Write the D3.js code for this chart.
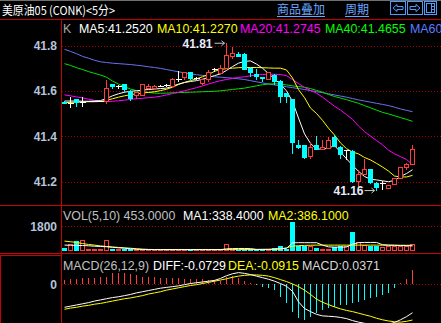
<!DOCTYPE html>
<html><head><meta charset="utf-8">
<script src="https://cdn.jsdelivr.net/npm/d3@7"></script>
<style>body{margin:0;background:#000;overflow:hidden}svg{display:block}</style>
</head><body><svg id="c" width="441" height="323"></svg>
<script>
// ---------- data ----------
const open  = [41.551,41.545,41.564,41.550,41.552,41.553,41.553,41.555,41.630,41.620, 41.630,41.601,41.580,41.580,41.609,41.610,41.620,41.623,41.618,41.651, 41.658,41.682,41.655,41.633,41.648,41.692,41.677,41.699,41.751,41.763, 41.763,41.702,41.673,41.660,41.651,41.670,41.645,41.589,41.563,41.361, 41.361,41.309,41.361,41.339,41.347,41.398,41.354,41.336,41.336,41.199, 41.232,41.254,41.195,41.192,41.170,41.185,41.214,41.261,41.273];
const high  = [41.553,41.571,41.566,41.571,41.556,41.556,41.556,41.648,41.632,41.627, 41.632,41.603,41.596,41.632,41.630,41.625,41.624,41.630,41.657,41.689, 41.684,41.684,41.660,41.654,41.690,41.699,41.714,41.810,41.792,41.773, 41.765,41.704,41.695,41.662,41.682,41.675,41.650,41.591,41.565,41.383, 41.363,41.376,41.401,41.383,41.395,41.405,41.356,41.338,41.338,41.251, 41.298,41.256,41.197,41.202,41.185,41.216,41.265,41.280,41.361];
const low   = [41.540,41.523,41.530,41.530,41.549,41.550,41.550,41.541,41.608,41.609, 41.589,41.556,41.563,41.578,41.607,41.606,41.616,41.616,41.613,41.640, 41.648,41.650,41.650,41.626,41.640,41.682,41.675,41.695,41.739,41.749, 41.690,41.662,41.648,41.640,41.649,41.626,41.545,41.548,41.320,41.345, 41.300,41.298,41.337,41.337,41.345,41.352,41.299,41.295,41.192,41.177, 41.230,41.190,41.160,41.163,41.168,41.183,41.212,41.251,41.271];
const close = [41.541,41.545,41.545,41.550,41.552,41.553,41.553,41.611,41.617,41.620, 41.604,41.563,41.594,41.630,41.621,41.620,41.620,41.623,41.651,41.651, 41.682,41.652,41.655,41.652,41.682,41.692,41.699,41.755,41.763,41.751, 41.692,41.677,41.660,41.651,41.680,41.640,41.571,41.574,41.371,41.349, 41.302,41.351,41.339,41.351,41.383,41.354,41.317,41.336,41.199,41.232, 41.254,41.192,41.170,41.192,41.183,41.214,41.263,41.273,41.343];

const ma5  = [41.555,41.555,41.555,41.554,41.554,41.555,41.557,41.566,41.578,41.587, 41.594,41.598,41.600,41.603,41.606,41.608,41.610,41.612,41.620,41.630, 41.637,41.641,41.645,41.651,41.659,41.667,41.675,41.690,41.707,41.722, 41.730,41.732,41.718,41.700,41.676,41.653,41.628,41.600,41.553,41.480, 41.410,41.368,41.343,41.343,41.347,41.358,41.330,41.300,41.272,41.245, 41.222,41.210,41.207,41.203,41.199,41.205,41.222,41.235,41.252];
const ma10 = [41.548,41.549,41.550,41.551,41.552,41.552,41.553,41.558,41.565,41.572, 41.578,41.583,41.587,41.590,41.593,41.596,41.601,41.607,41.616,41.628, 41.637,41.645,41.653,41.662,41.672,41.686,41.694,41.698,41.700,41.702, 41.703,41.703,41.703,41.702,41.701,41.700,41.700,41.692,41.657,41.605, 41.570,41.524,41.500,41.470,41.435,41.405,41.370,41.345,41.330,41.322, 41.306,41.295,41.280,41.264,41.246,41.224,41.220,41.220,41.227];
const ma20 = [41.582,41.578,41.573,41.569,41.563,41.558,41.553,41.552,41.554,41.556, 41.559,41.562,41.565,41.567,41.570,41.572,41.576,41.582,41.588,41.594, 41.600,41.607,41.614,41.622,41.630,41.638,41.645,41.650,41.655,41.659, 41.662,41.666,41.670,41.672,41.673,41.673,41.672,41.667,41.650,41.632, 41.615,41.602,41.590,41.572,41.552,41.532,41.515,41.495,41.474,41.445, 41.420,41.400,41.381,41.362,41.338,41.322,41.310,41.297,41.2745];
const ma40 = [41.720,41.712,41.702,41.694,41.685,41.677,41.670,41.660,41.643,41.630, 41.618,41.608,41.601,41.597,41.593,41.590,41.589,41.590,41.591,41.592, 41.593,41.594,41.595,41.596,41.597,41.598,41.600,41.603,41.606,41.609, 41.612,41.617,41.622,41.627,41.630,41.631,41.630,41.626,41.622,41.619, 41.616,41.610,41.602,41.594,41.584,41.575,41.568,41.561,41.553,41.545, 41.535,41.525,41.515,41.505,41.498,41.490,41.482,41.474,41.4655];
const ma60 = [41.783,41.774,41.764,41.752,41.744,41.735,41.728,41.725,41.722,41.720, 41.718,41.716,41.713,41.710,41.706,41.703,41.699,41.694,41.689,41.684, 41.679,41.675,41.671,41.668,41.665,41.662,41.660,41.658,41.656,41.653, 41.650,41.645,41.640,41.635,41.630,41.626,41.622,41.618,41.614,41.610, 41.606,41.601,41.596,41.592,41.587,41.582,41.577,41.572,41.566,41.560, 41.555,41.550,41.545,41.540,41.535,41.528,41.520,41.514,41.508];

const volume = [200,470,695,770,75,75,75,770,125,75, 100,100,75,60,60,50,50,50,75,100, 60,50,50,50,60,50,75,470,75,60, 100,100,75,100,100,150,320,125,2140,350, 350,320,150,75,100,225,350,320,1375,600, 350,350,350,225,280,300,330,330,453];
const volMa1 = [400,390,380,370,350,320,300,280,240,200, 170,130,100,80,75,65,60,60,60,60, 60,60,60,60,60,60,60,120,140,150, 150,140,80,85,90,105,150,160,570,580, 580,580,580,400,270,250,250,260,470,580, 600,600,600,430,400,390,370,360,338.4];
const volMa2 = [700,650,600,520,450,400,340,300,260,230, 200,170,130,100,80,75,75,75,75,75, 75,75,75,75,75,75,75,80,80,80, 80,80,80,80,80,85,100,200,320,360, 380,390,400,400,400,400,400,400,400,400, 400,400,400,395,395,390,390,388,386.1];

const diff = [-0.059,-0.056,-0.053,-0.050,-0.047,-0.043,-0.040,-0.037,-0.034,-0.032, -0.029,-0.026,-0.022,-0.019,-0.016,-0.013,-0.010,-0.008,-0.006,-0.004, -0.001,0.002,0.004,0.006,0.008,0.010,0.015,0.022,0.027,0.030, 0.028,0.025,0.021,0.017,0.013,0.008,0.002,-0.005,-0.018,-0.045, -0.062,-0.070,-0.077,-0.081,-0.082,-0.083,-0.085,-0.088,-0.093,-0.097, -0.100,-0.102,-0.104,-0.104,-0.102,-0.098,-0.091,-0.083,-0.0729];
const dea  = [-0.064,-0.061,-0.059,-0.056,-0.054,-0.051,-0.049,-0.046,-0.043,-0.040, -0.037,-0.035,-0.032,-0.029,-0.025,-0.022,-0.019,-0.015,-0.012,-0.009, -0.006,-0.003,-0.001,0.002,0.005,0.008,0.011,0.014,0.018,0.021, 0.023,0.024,0.024,0.023,0.021,0.017,0.012,0.007,0.001,-0.006, -0.015,-0.026,-0.038,-0.046,-0.052,-0.058,-0.063,-0.067,-0.070,-0.074, -0.078,-0.082,-0.087,-0.091,-0.094,-0.096,-0.097,-0.095,-0.0915];
const macdBar = [0.0111,0.0128,0.0137,0.0154,0.0162,0.0171,0.0179,0.0197,0.0282,0.0282, 0.0282,0.0265,0.0239,0.0197,0.0179,0.0179,0.0171,0.0162,0.0154,0.0154, 0.0137,0.0128,0.0128,0.0128,0.0111,0.0111,0.0094,0.0179,0.0214,0.0154, 0.0094,0.0026,-0.0026,-0.0077,-0.0103,-0.0145,-0.0316,-0.0487,-0.0701,-0.0872, -0.0915,-0.0829,-0.0744,-0.0658,-0.0615,-0.0573,-0.0530,-0.0530,-0.0487,-0.0444, -0.0402,-0.0359,-0.0316,-0.0274,-0.0231,-0.0103,0.0026,0.0128,0.0371];

const priceTicks = [41.2, 41.4, 41.6, 41.8];
const volTicks = [1800];
const macdTicks = [0];

const titleText = "美原油05 (CONK)<5分>";
const linkTexts = ["商品叠加", "周期"];
const kLegend = [
  {t:"K", c:"#a8a8a8"},
  {t:"MA5:41.2520", c:"#ffffff"},
  {t:"MA10:41.2270", c:"#ffff00"},
  {t:"MA20:41.2745", c:"#ff00ff"},
  {t:"MA40:41.4655", c:"#00ff00"},
  {t:"MA60:41.5080", c:"#5c7cff"}
];
const volLegend = [
  {t:"VOL(5,10) 453.0000", c:"#c0c0c0"},
  {t:"MA1:338.4000", c:"#ffffff"},
  {t:"MA2:386.1000", c:"#ffff00"}
];
const macdLegend = [
  {t:"MACD(26,12,9)", c:"#c0c0c0"},
  {t:"DIFF:-0.0729", c:"#ffffff"},
  {t:"DEA:-0.0915", c:"#ffff00"},
  {t:"MACD:0.0371", c:"#d8d8d8"}
];
const highLabel = "41.81", lowLabel = "41.16";

// ---------- drawing ----------
const W = 441, H = 323, L = 62;
const RED = "#ff3c3c", CYAN = "#00ffff", FRAME = "#c80000", GRID = "#a80000", LBL = "#b4c4dc";
const FONT = "'Liberation Sans', Arial, sans-serif";
const svg = d3.select("#c");
svg.append("rect").attr("width", W).attr("height", H).attr("fill", "#000");

const n = close.length;
const x = d3.scalePoint().domain(d3.range(n)).range([64, 412]);
const cx = i => x(i) + 0.5;
const yP = d3.scaleLinear().domain([41.2, 41.8]).range([181.5, 45.5]);
const yV = d3.scaleLinear().domain([0, 1800]).range([250.5, 226.3]);
const yM = d3.scaleLinear().domain([-0.1, 0]).range([323.3, 284.3]);

const defs = svg.append("defs");
function clip(id, y0, y1) {
  defs.append("clipPath").attr("id", id).append("rect").attr("x", L).attr("y", y0).attr("width", W - L).attr("height", y1 - y0);
}
clip("ck", 20, 205); clip("cv", 206, 253); clip("cm", 255, 323);

// title bar
svg.append("line").attr("x1", 0).attr("x2", W).attr("y1", 0.5).attr("y2", 0.5).attr("stroke", "#707070");
svg.append("text").attr("x", 2).attr("y", 14.5).attr("fill", "#ffffff")
  .attr("font-family", "'Noto Sans CJK SC', sans-serif").attr("font-size", 12)
  .attr("textLength", 113).attr("lengthAdjust", "spacingAndGlyphs").text(titleText);
const linkX = [277, 345], linkW = [48, 24];
linkTexts.forEach((t, k) => {
  svg.append("text").attr("x", linkX[k]).attr("y", 14).attr("fill", "#6aa8ff")
    .attr("font-family", "'Noto Sans CJK SC', sans-serif").attr("font-size", 12)
    .attr("textLength", linkW[k]).attr("lengthAdjust", "spacingAndGlyphs").text(t);
  svg.append("line").attr("x1", linkX[k]).attr("x2", linkX[k] + linkW[k]).attr("y1", 16.5).attr("y2", 16.5)
    .attr("stroke", "#6aa8ff");
});
// icons
const ic = svg.append("g").attr("fill", "none").attr("stroke", "#4f9cff").attr("shape-rendering", "crispEdges");
[[390.5, 15], [407.5, 15], [424.5, 12]].forEach(([bx, bw]) => {
  ic.append("rect").attr("x", bx).attr("y", 1.5).attr("width", bw).attr("height", 13);
});
ic.append("path").attr("shape-rendering", "auto").attr("d", "M393,8 L397,4.5 L397,6.5 L403,6.5 L403,9.5 L397,9.5 L397,11.5 Z");
ic.append("path").attr("shape-rendering", "auto").attr("d", "M420,8 L416,4.5 L416,6.5 L410,6.5 L410,9.5 L416,9.5 L416,11.5 Z");
ic.append("rect").attr("x", 426.5).attr("y", 3.5).attr("width", 8).attr("height", 9);
ic.append("line").attr("x1", 431.5).attr("x2", 431.5).attr("y1", 3.5).attr("y2", 12.5);
ic.append("line").attr("x1", 431.5).attr("x2", 434.5).attr("y1", 6.5).attr("y2", 6.5);
ic.append("line").attr("x1", 431.5).attr("x2", 434.5).attr("y1", 9.5).attr("y2", 9.5);

// frames
const fr = svg.append("g").attr("stroke", FRAME).attr("shape-rendering", "crispEdges");
fr.append("line").attr("x1", 0).attr("x2", W).attr("y1", 19.5).attr("y2", 19.5);
fr.append("line").attr("x1", 0).attr("x2", W).attr("y1", 205.5).attr("y2", 205.5);
fr.append("line").attr("x1", 0).attr("x2", W).attr("y1", 253.5).attr("y2", 253.5);
fr.append("line").attr("x1", 61.5).attr("x2", 61.5).attr("y1", 19.5).attr("y2", H);
fr.append("rect").attr("x", 0.5).attr("y", 255.5).attr("width", 61).attr("height", 70).attr("fill", "none");

// axes + grid
function axisBlock(scale, ticks, fmt) {
  const g = svg.append("g").attr("transform", `translate(${L},0)`)
    .call(d3.axisLeft(scale).tickValues(ticks).tickFormat(fmt).tickSize(0).tickPadding(5));
  g.select(".domain").remove();
  g.attr("font-family", FONT).attr("font-size", 12).attr("font-weight", "bold");
  g.selectAll("text").attr("fill", LBL);
  const gg = svg.append("g").attr("transform", `translate(${L},0)`)
    .call(d3.axisRight(scale).tickValues(ticks).tickFormat("").tickSize(W - L));
  gg.select(".domain").remove();
  gg.selectAll("line").attr("stroke", GRID).attr("stroke-dasharray", "1,2").attr("shape-rendering", "crispEdges");
}
axisBlock(yP, priceTicks, d3.format(".1f"));
axisBlock(yV, volTicks, d3.format("d"));
axisBlock(yM, macdTicks, d3.format("d"));

// legends
function legend(items, xs, y) {
  items.forEach((d, k) => {
    svg.append("text").attr("x", xs[k]).attr("y", y).attr("fill", d.c)
      .attr("font-family", FONT).attr("font-size", 12.4).text(d.t);
  });
}
legend(kLegend, [63, 79, 157, 240, 325, 410], 33.3);
legend(volLegend, [63, 183, 268], 220);
legend(macdLegend, [63, 153, 228, 302], 269.5);

// MA lines (K panel)
const kg = svg.append("g").attr("clip-path", "url(#ck)");
const maSets = [[ma60, "#6a72f0"], [ma40, "#00e000"], [ma20, "#ff00ff"], [ma10, "#ffff00"], [ma5, "#ffffff"]];
maSets.forEach(([arr, col]) => {
  kg.append("path").datum(arr).attr("fill", "none").attr("stroke", col).attr("stroke-width", 1)
    .attr("d", d3.line().x((d, i) => cx(i)).y(d => yP(d)));
});

// candles
const cg = svg.append("g").attr("clip-path", "url(#ck)").attr("shape-rendering", "crispEdges");
d3.range(n).forEach(i => {
  const o = open[i], c = close[i], h = high[i], l = low[i], xc = cx(i);
  if (c > o) {
    const top = yP(c), bot = yP(o);
    cg.append("line").attr("x1", xc).attr("x2", xc).attr("y1", yP(h)).attr("y2", top).attr("stroke", RED);
    cg.append("line").attr("x1", xc).attr("x2", xc).attr("y1", bot).attr("y2", yP(l)).attr("stroke", RED);
    cg.append("rect").attr("x", xc - 2).attr("y", top).attr("width", 4).attr("height", Math.max(1, bot - top))
      .attr("fill", "#000").attr("stroke", RED);
  } else if (c < o) {
    cg.append("line").attr("x1", xc).attr("x2", xc).attr("y1", yP(h)).attr("y2", yP(l)).attr("stroke", CYAN);
    cg.append("rect").attr("x", xc - 2.5).attr("y", yP(o)).attr("width", 5).attr("height", Math.max(1, yP(c) - yP(o)))
      .attr("fill", CYAN);
  } else {
    cg.append("line").attr("x1", xc).attr("x2", xc).attr("y1", yP(h)).attr("y2", yP(l)).attr("stroke", "#fff");
    cg.append("line").attr("x1", xc - 3).attr("x2", xc + 3).attr("y1", yP(c)).attr("y2", yP(c)).attr("stroke", "#fff");
  }
});

// high / low markers
const iHi = d3.maxIndex(high), iLo = d3.minIndex(low);
const mk = svg.append("g");
mk.append("text").attr("x", cx(iHi) - 14).attr("y", yP(high[iHi]) + 5).attr("text-anchor", "end")
  .attr("fill", "#e6ecfa").attr("font-family", FONT).attr("font-weight", "bold").attr("font-size", 12).text(highLabel);
mk.append("text").attr("x", cx(iLo) - 13).attr("y", yP(low[iLo]) + 4.5).attr("text-anchor", "end")
  .attr("fill", "#e6ecfa").attr("font-family", FONT).attr("font-weight", "bold").attr("font-size", 12).text(lowLabel);
[[iHi, yP(high[iHi])], [iLo, yP(low[iLo])]].forEach(([i, yy]) => {
  const x1 = cx(i) - 12, x2 = cx(i) - 2;
  mk.append("line").attr("x1", x1).attr("x2", x2).attr("y1", yy).attr("y2", yy).attr("stroke", "#c8c8c8");
  mk.append("path").attr("d", `M${x2},${yy} L${x2 - 3},${yy - 2.5} M${x2},${yy} L${x2 - 3},${yy + 2.5}`)
    .attr("stroke", "#c8c8c8").attr("fill", "none");
});

// volume
const vg = svg.append("g").attr("clip-path", "url(#cv)").attr("shape-rendering", "crispEdges");
d3.range(n).forEach(i => {
  const xc = cx(i), top = yV(volume[i]), base = yV(0);
  if (close[i] < open[i]) {
    vg.append("rect").attr("x", xc - 2.5).attr("y", top).attr("width", 5).attr("height", base - top).attr("fill", CYAN);
  } else {
    vg.append("rect").attr("x", xc - 2).attr("y", top).attr("width", 4).attr("height", Math.max(0.5, base - top - 0.5))
      .attr("fill", "none").attr("stroke", RED);
  }
});
const vl = svg.append("g").attr("clip-path", "url(#cv)");
[[volMa2, "#ffff00"], [volMa1, "#ffffff"]].forEach(([arr, col]) => {
  vl.append("path").datum(arr).attr("fill", "none").attr("stroke", col)
    .attr("d", d3.line().x((d, i) => cx(i)).y(d => yV(d)));
});

// MACD
const mg = svg.append("g").attr("clip-path", "url(#cm)").attr("shape-rendering", "crispEdges");
macdBar.forEach((v, i) => {
  mg.append("line").attr("x1", cx(i)).attr("x2", cx(i)).attr("y1", yM(0)).attr("y2", yM(v))
    .attr("stroke", v >= 0 ? RED : CYAN);
});
const ml = svg.append("g").attr("clip-path", "url(#cm)");
[[dea, "#ffff00"], [diff, "#ffffff"]].forEach(([arr, col]) => {
  ml.append("path").datum(arr).attr("fill", "none").attr("stroke", col)
    .attr("d", d3.line().x((d, i) => cx(i)).y(d => yM(d)));
});
</script>
</body></html>
